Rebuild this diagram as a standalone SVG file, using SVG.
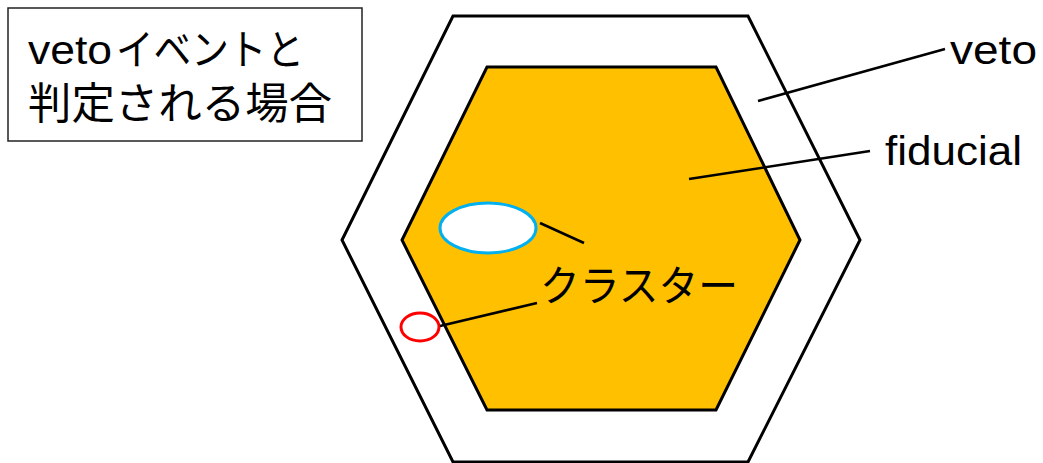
<svg xmlns="http://www.w3.org/2000/svg" width="1043" height="463" viewBox="0 0 1043 463">
<style>
.lat{font-family:"Liberation Sans","Noto Sans CJK JP",sans-serif;fill:#000}
.jp{font-family:"Noto Sans CJK JP","Liberation Sans",sans-serif;fill:#000}
.hex{stroke:#000;stroke-width:3;stroke-linejoin:miter}
.lead{stroke:#000;stroke-width:2.5;fill:none}
</style>
<rect width="1043" height="463" fill="#fff"/>
<g id="title">
<rect x="8" y="8" width="354" height="133" fill="#fff" stroke="#222" stroke-width="1.5"/>
<text class="lat" x="28" y="64" font-size="40" textLength="84" lengthAdjust="spacingAndGlyphs">veto</text>
<text class="jp" x="116" y="65" font-size="42" textLength="188" lengthAdjust="spacingAndGlyphs">イベントと</text>
<text class="jp" x="28" y="119" font-size="43" textLength="304" lengthAdjust="spacingAndGlyphs">判定される場合</text>
</g>
<g id="veto-region">
<polygon class="hex" points="453,16 748,16 860,240 748,462 453,462 342,240" fill="#fff"/>
</g>
<g id="fiducial-region">
<polygon class="hex" points="487,67 716,67 800,240 716,410 487,410 402,240" fill="#FFC000"/>
</g>
<g id="cluster-inside">
<ellipse cx="488" cy="228" rx="48" ry="25" fill="#fff" stroke="#00B0F0" stroke-width="3"/>
</g>
<g id="cluster-edge">
<ellipse cx="420" cy="327" rx="19" ry="14" fill="#fff" stroke="#FF0000" stroke-width="3"/>
</g>
<g id="connectors">
<line class="lead" x1="758" y1="101" x2="945" y2="49"/>
<line class="lead" x1="689" y1="179" x2="870" y2="151"/>
<line class="lead" x1="540" y1="223" x2="584" y2="243"/>
<line class="lead" x1="440" y1="326" x2="537" y2="303"/>
</g>
<g id="labels">
<text class="lat" x="950" y="64" font-size="40" textLength="87" lengthAdjust="spacingAndGlyphs">veto</text>
<text class="lat" x="885" y="165" font-size="40" textLength="137" lengthAdjust="spacingAndGlyphs">fiducial</text>
<text class="jp" x="540" y="301" font-size="42" textLength="198" lengthAdjust="spacingAndGlyphs">クラスター</text>
</g>
</svg>
